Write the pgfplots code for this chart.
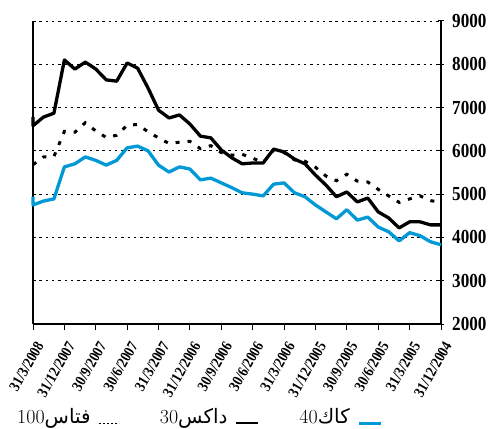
\documentclass[border=0pt]{standalone}
\usepackage{pgfplots}
\pgfplotsset{compat=1.18}
\usepackage{fontspec}
\newfontfamily\condserif[FakeStretch=0.86]{Liberation Serif}
\newfontfamily\arabicfont[Script=Arabic]{DejaVu Sans}
\TeXXeTstate=1
\definecolor{cacblue}{RGB}{0,153,214}

\pgfplotstableread{
i dax ftse cac
0 6780 5680 4940
0 6580 5680 4750
1 6780 5860 4840
2 6870 5870 4890
3 8100 6450 5630
4 7890 6430 5700
5 8050 6650 5860
6 7890 6460 5780
7 7640 6310 5670
8 7610 6360 5780
9 8030 6590 6070
10 7910 6610 6110
11 7450 6440 6000
12 6940 6300 5670
13 6760 6170 5510
14 6830 6200 5630
15 6620 6220 5580
16 6340 6050 5330
17 6300 6120 5370
18 6020 5960 5260
19 5840 5900 5150
20 5700 5920 5030
21 5720 5830 5000
22 5720 5730 4960
23 6040 6020 5230
24 5975 5960 5260
25 5810 5790 5030
26 5700 5760 4940
27 5440 5620 4750
28 5210 5420 4590
29 4940 5310 4430
30 5050 5460 4640
31 4820 5300 4400
32 4910 5280 4470
33 4590 5110 4240
34 4450 4960 4130
35 4220 4810 3920
36 4360 4890 4110
37 4360 4960 4040
38 4290 4850 3900
39 4290 4810 3830
}\datatable

\begin{document}
\begin{tikzpicture}
\begin{axis}[name=ax,
  width=408bp, height=303bp, scale only axis,
  xmin=0, xmax=39, ymin=2000, ymax=9000,
  clip=false,
  axis x line*=bottom, axis y line*=right,
  axis line style={-, line width=1.2bp, black},
  xtick={0,3,...,39},
  xticklabels={31/3/2008,31/12/2007,30/9/2007,30/6/2007,31/3/2007,31/12/2006,30/9/2006,30/6/2006,31/3/2006,31/12/2005,30/9/2005,30/6/2005,31/3/2005,31/12/2004},
  ytick={2000,3000,...,9000},
  yticklabels={2000,3000,4000,5000,6000,7000,8000,9000},
  major tick length=6bp,
  xtick align=outside, ytick align=center,
  tick style={line width=1bp, black},
  ymajorgrids,
  grid style={black, line width=0.9bp, dash pattern=on 2.5bp off 3.8bp},
  xticklabel style={font=\condserif\bfseries\fontsize{15.5}{15.5}\selectfont, xshift=7bp, yshift=-13bp, rotate=60, anchor=east, inner sep=0pt},
  yticklabel style={font=\condserif\bfseries\fontsize{20}{20}\selectfont, anchor=west, inner sep=0pt, xshift=8bp},
  legend columns=3,
  legend plot pos=right,
  legend style={draw=none, fill=none, at={(axis description cs:-0.044,-0.305)}, anchor=west,
    font=\fontsize{20}{20}\selectfont, inner sep=0pt,
    /tikz/every odd column/.append style={column sep=6bp},
    /tikz/every even column/.append style={column sep=38bp}},
]
\draw[line width=1.2bp] (rel axis cs:0,0) -- (rel axis cs:0,1);
\addplot[black, line width=3bp, dash pattern=on 4bp off 8bp,
  legend image code/.code={\draw[black, line width=1.3bp, dash pattern=on 1.3bp off 2.7bp] (0bp,-7bp) -- (20bp,-7bp);}]
  table[x=i, y=ftse] {\datatable};
\addlegendentry{\beginR{\arabicfont فتاس}\beginL 100\endL\endR}
\addplot[black, line width=3.3bp, line join=round,
  legend image code/.code={\draw[black, line width=2bp] (0bp,-7bp) -- (22bp,-7bp);}]
  table[x=i, y=dax] {\datatable};
\addlegendentry{\beginR{\arabicfont داكس}\beginL 30\endL\endR}
\addplot[cacblue, line width=3.3bp, line join=round,
  legend image code/.code={\draw[cacblue, line width=3bp] (0bp,-7bp) -- (22bp,-7bp);}]
  table[x=i, y=cac] {\datatable};
\addlegendentry{\beginR{\arabicfont كاك}\beginL 40\endL\endR}
\end{axis}
\pgfresetboundingbox
\path[use as bounding box] (ax.south west) ++(-33bp,-105bp) rectangle ++(491bp,429bp);
\end{tikzpicture}
\end{document}
